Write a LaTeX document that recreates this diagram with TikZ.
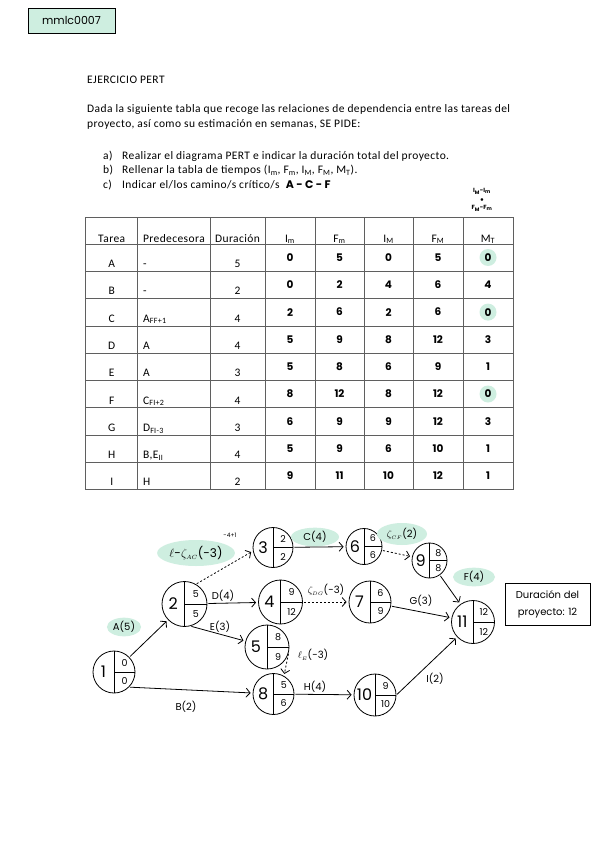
\documentclass[tikz,border=0pt]{standalone}
\usepackage{fontspec}
\setmainfont{Carlito}[LetterSpace=3.5]
\newfontfamily\mano{Poppins}
\usepackage{tikz}
\usetikzlibrary{arrows.meta, positioning, shapes.geometric}
\usepackage{xcolor}
\definecolor{menta}{RGB}{206,238,224}
\definecolor{rejilla}{RGB}{95,95,95}

% suceso PERT: nombre, centro, radio, numero, arriba, abajo
\newcommand{\suceso}[6]{%
  \node[evento, minimum size=2*#3pt] (#1) at (#2) {};
  \draw[thick] (#1.north) -- (#1.south);
  \draw[thick] (#1.center) -- (#1.east);
  \node[num] (#1-n) at ([xshift=-0.5*#3pt]#1.center) {#4};
  \node[subnum] (#1-a) at ([xshift=0.5*#3pt, yshift=0.45*#3pt]#1.center) {#5};
  \node[subnum] (#1-b) at ([xshift=0.5*#3pt, yshift=-0.45*#3pt]#1.center) {#6};
}

\begin{document}
\begin{tikzpicture}[x=1pt, y=-1pt,
    texto/.style={anchor=base west, inner sep=0pt, font=\fontsize{11.5}{13}\selectfont},
    celda/.style={anchor=base, inner sep=0pt, font=\fontsize{11.5}{13}\selectfont},
    dato/.style={inner sep=0pt, font=\mano\bfseries\fontsize{10.5}{13}\selectfont},
    evento/.style={circle, draw=black, thick, inner sep=0pt},
    num/.style={inner sep=0pt, font=\mano\fontsize{16}{16}\selectfont},
    subnum/.style={inner sep=0pt, font=\mano\fontsize{9.5}{10}\selectfont},
    etiqueta/.style={inner sep=1pt, font=\mano\fontsize{10}{12}\selectfont},
    marca/.style={etiqueta, ellipse, fill=menta},
    flecha/.style={-{Straight Barb[length=4pt, width=9pt]}, thick, shorten >=2pt, shorten <=1pt},
    ficticia/.style={flecha, dash pattern=on 2pt off 2pt}
]
\path[fill=white, use as bounding box] (0,0) rectangle (599,848);

% Cabecera
\node[draw, thick, fill=menta, minimum width=87pt, minimum height=25pt,
      font=\mano\fontsize{11}{12}\selectfont] (codigo) at (71.5,20.5) {mmlc0007};

\node[texto] (titulo) at (87,84) {EJERCICIO PERT};
\node[texto] (enun1) at (87,113) {Dada la siguiente tabla que recoge las relaciones de dependencia entre las tareas del};
\node[texto] (enun2) at (87,128) {proyecto, así como su estimación en semanas, SE PIDE:};
\node[texto] (ia) at (103,159) {a)};
\node[texto] (ta) at (122,159) {Realizar el diagrama PERT e indicar la duración total del proyecto.};
\node[texto] (ib) at (103,173.5) {b)};
\node[texto] (tb) at (122,173.5) {Rellenar la tabla de tiempos (I\textsubscript{m}, F\textsubscript{m}, I\textsubscript{M}, F\textsubscript{M}, M\textsubscript{T}).};
\node[texto] (ic) at (103,188) {c)};
\node[texto] (tc) at (122,188) {Indicar el/los camino/s crítico/s};
\node[inner sep=0pt, font=\mano\bfseries\fontsize{11}{13}\selectfont,
      right=6pt of tc.base east, anchor=base west] (critico) {A - C - F};
\node[align=center, inner sep=0pt, font=\mano\bfseries\fontsize{6}{8.5}\selectfont] (holgura) at (482,200)
  {I\textsubscript{M}-I\textsubscript{m}\\$\bullet$\\F\textsubscript{M}-F\textsubscript{m}};

% Tabla
\draw[rejilla, line width=0.8pt] (85.7,217) -- (513,217);
\foreach \k in {0,...,9}
  \draw[rejilla, line width=0.8pt] (85.7,{244+27.3*\k}) -- (513,{244+27.3*\k});
\foreach \x in {85.7,137.7,210,265,315,364,413,463,513}
  \draw[rejilla, line width=0.8pt] (\x,217) -- (\x,489.7);

\foreach \txt/\x [count=\c] in {Tarea/111.7, Predecesora/173.9, Duración/237.5,
    I\textsubscript{m}/290, F\textsubscript{m}/339.5, I\textsubscript{M}/388.5,
    F\textsubscript{M}/438, M\textsubscript{T}/488}
  \node[celda] (cab\c) at (\x,242) {\txt};

% holguras nulas
\foreach \i in {0,2,5}
  \fill[menta] (488,{244+27.3*\i+13.5}) circle (8.5);

\foreach \tar/\pre/\dur/\im/\fm/\iM/\fM/\mt [count=\i from 0] in {
    A/-/5/0/5/0/5/0,
    B/-/2/0/2/4/6/4,
    C/A\textsubscript{FF+1}/4/2/6/2/6/0,
    D/A/4/5/9/8/12/3,
    E/A/3/5/8/6/9/1,
    F/C\textsubscript{FI+2}/4/8/12/8/12/0,
    G/D\textsubscript{FI-3}/3/6/9/9/12/3,
    H/{B,E\textsubscript{II}}/4/5/9/6/10/1,
    I/H/2/9/11/10/12/1} {
  \pgfmathsetmacro\yb{244+27.3*\i+23.5}
  \pgfmathsetmacro\yh{244+27.3*\i+13.5}
  \node[celda] (tar\i) at (111.7,\yb) {\tar};
  \node[celda, anchor=base west] (pre\i) at (143,\yb) {\pre};
  \node[celda] (dur\i) at (237.5,\yb) {\dur};
  \node[dato] (im\i) at (290,\yh) {\im};
  \node[dato] (fm\i) at (339.5,\yh) {\fm};
  \node[dato] (iM\i) at (388.5,\yh) {\iM};
  \node[dato] (fM\i) at (438,\yh) {\fM};
  \node[dato] (mt\i) at (488,\yh) {\mt};
}

% Sucesos
\suceso{n1}{114,672}{21}{1}{0}{0}
\suceso{n2}{184.5,604}{22.5}{2}{5}{5}
\suceso{n3}{273,547.5}{20}{3}{2}{2}
\suceso{n6}{364,546.5}{18}{6}{6}{6}
\suceso{n9}{429.5,560.5}{17.5}{9}{8}{8}
\suceso{n4}{280.5,602}{22}{4}{9}{12}
\suceso{n7}{370,602}{21}{7}{6}{9}
\suceso{n5}{267,647}{22}{5}{8}{9}
\suceso{n8}{273.5,694}{20.5}{8}{5}{6}
\suceso{n10}{375,695}{21}{10}{9}{10}
\suceso{n11}{473,622}{21.5}{11}{12}{12}

% Etiquetas resaltadas (detras de las flechas)
\node[marca, minimum width=34pt, minimum height=17pt] (etqA) at (124,627) {A(5)};
\node[marca, minimum width=64pt, minimum height=26pt, font=\mano\fontsize{12}{14}\selectfont] (etqAC) at (196,553)
  {$\ell$-$\zeta_{\scriptscriptstyle AC}$(-3)};
\node[marca, minimum width=48pt, minimum height=18pt] (etqC) at (315,537) {C(4)};
\node[marca, minimum width=50pt, minimum height=22pt] (etqCF) at (402,534)
  {$\zeta_{\scriptscriptstyle CF}$(2)};
\node[marca, minimum width=42pt, minimum height=17pt] (etqF) at (474,577) {F(4)};

% Actividades
\draw[flecha] (n1) -- (n2);
\draw[flecha] (n1.-45) -- (n8);
\draw[flecha] (n2) -- (n4);
\draw[flecha] (n2.-75) -- (n5);
\draw[flecha] (n3) -- (n6);
\draw[flecha] (n9) -- (n11);
\draw[flecha] (n7) -- (n11);
\draw[flecha] (n8) -- (n10);
\draw[flecha] (n10.east) -- (n11);

% Desfases (punteadas)
\draw[ficticia] (n2.60) -- (n3.190);
\draw[ficticia] (n6) -- (n9);
\draw[ficticia] (n4) -- (n7);
\draw[ficticia] (n5.-15) -- (n8.60);

% Etiquetas
\node[etiqueta] (etqB) at (186,707) {B(2)};
\node[etiqueta] (etqD) at (223,596) {D(4)};
\node[etiqueta] (etqE) at (220,627) {E(3)};
\node[etiqueta] (etqG) at (421,601) {G(3)};
\node[etiqueta] (etqH) at (315,687) {H(4)};
\node[etiqueta] (etqI) at (435,679) {I(2)};
\node[etiqueta, font=\mano\fontsize{6}{7}\selectfont] (ajuste) at (230,535) {-4+1};
\node[etiqueta] (etqDG) at (326,590) {$\zeta_{\scriptscriptstyle DG}$(-3)};
\node[etiqueta] (etqEl) at (313,655) {$\ell_{\scriptscriptstyle E}$(-3)};

% Resultado
\node[draw, thick, align=center, minimum width=85pt, minimum height=42pt,
      font=\mano\fontsize{10}{17}\selectfont] (duracion) at (547.5,604)
  {Duración del\\proyecto: 12};
\end{tikzpicture}
\end{document}
